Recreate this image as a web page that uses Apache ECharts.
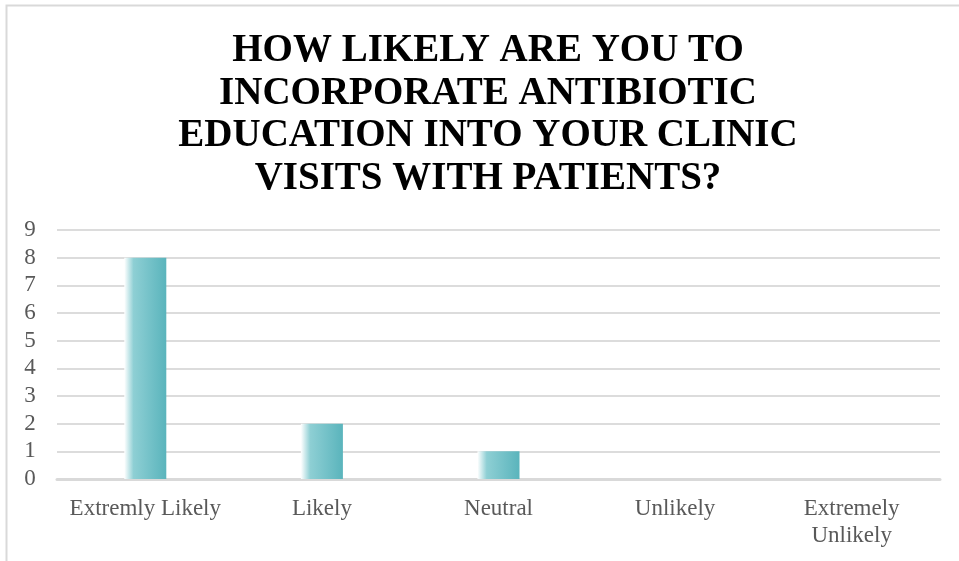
<!DOCTYPE html>
<html>
<head>
<meta charset="utf-8">
<script src="https://cdn.jsdelivr.net/npm/echarts@6/dist/echarts.min.js"></script>
<style>
  html, body { margin: 0; padding: 0; background: #fff; }
  #chart { width: 959px; height: 561px; }
</style>
</head>
<body>
<div id="chart"></div>
<script>
// Survey responses: likelihood of adding antibiotic education to clinic visits
const categories = ['Extremly Likely', 'Likely', 'Neutral', 'Unlikely', 'Extremely\nUnlikely'];
const counts = [8, 2, 1, 0, 0];
const yTicks = [0, 1, 2, 3, 4, 5, 6, 7, 8, 9];

const chart = echarts.init(document.getElementById('chart'));

const serif = '"Liberation Serif", "Times New Roman", serif';

chart.setOption({
  backgroundColor: '#ffffff',
  animation: false,
  graphic: [{
    type: 'rect',
    shape: { x: 6.5, y: 5.5, width: 1000, height: 600 },
    style: { fill: 'none', stroke: '#d9d9d9', lineWidth: 2 },
    silent: true
  }],
  title: {
    text: 'HOW LIKELY ARE YOU TO\nINCORPORATE ANTIBIOTIC\nEDUCATION INTO YOUR CLINIC\nVISITS WITH PATIENTS?',
    left: 483,
    textAlign: 'center',
    top: 25,
    textStyle: {
      fontFamily: serif,
      fontWeight: 'bold',
      fontSize: 39,
      lineHeight: 42.5,
      color: '#000000'
    }
  },
  grid: {
    left: 57,
    right: 19,
    top: 230,
    bottom: 82,
    containLabel: false
  },
  xAxis: {
    type: 'category',
    data: categories,
    axisLine: { show: true, lineStyle: { color: '#d9d9d9', width: 3 } },
    axisTick: { show: false },
    axisLabel: {
      fontFamily: serif,
      fontSize: 23,
      lineHeight: 27,
      color: '#595959',
      margin: 16,
      interval: 0
    }
  },
  yAxis: {
    type: 'value',
    min: yTicks[0],
    max: yTicks[yTicks.length - 1],
    interval: 1,
    axisLine: { show: false },
    axisTick: { show: false },
    splitLine: { lineStyle: { color: '#d0d0d0', width: 1.5 } },
    axisLabel: {
      fontFamily: serif,
      fontSize: 23,
      color: '#595959',
      margin: 27,
      align: 'center'
    }
  },
  series: [{
    type: 'bar',
    data: counts,
    barWidth: 42,
    itemStyle: {
      color: new echarts.graphic.LinearGradient(0, 0, 1, 0, [
        { offset: 0, color: 'rgba(255,255,255,1)' },
        { offset: 0.22, color: '#8ecfd4' },
        { offset: 1, color: '#5ab4bc' }
      ])
    }
  }]
});
</script>
</body>
</html>
